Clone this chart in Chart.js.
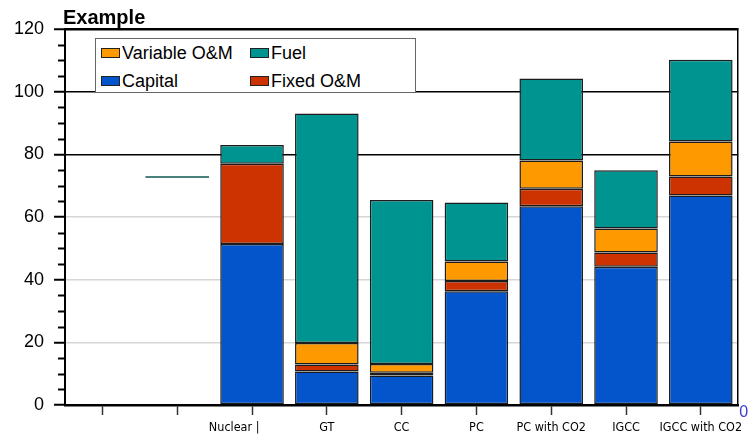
<!DOCTYPE html>
<html>
<head>
<meta charset="utf-8">
<script src="https://cdn.jsdelivr.net/npm/chart.js@4/dist/chart.umd.min.js"></script>
<style>
  html, body { margin: 0; padding: 0; background: #fff; }
  #wrap { position: relative; width: 748px; height: 439px; overflow: hidden; }
  #chart { position: absolute; left: 0; top: 0; }
  #title { position: absolute; left: 63px; top: 7px; font: bold 20px 'Liberation Sans', Arial, sans-serif; line-height: 20px; color: #000; }
  #legend { position: absolute; left: 95px; top: 38px; width: 319px; height: 53px; background: #fff; border: 1px solid #666; }
  .item { position: absolute; height: 20px; line-height: 20px; font: 18px 'Liberation Sans', Arial, sans-serif; color: #000; white-space: nowrap; }
  .sw { position: absolute; left: 0; top: 5px; width: 17px; height: 8px; border: 1.5px solid #222; }
  .item span.txt { position: absolute; left: 21px; top: 0; }
</style>
</head>
<body>
<div id="wrap">
  <canvas id="chart" width="748" height="445"></canvas>
  <div id="title">Example</div>
  <div id="legend"></div>
</div>
<script>
// Plant types along the x axis (the first two slots are left empty)
const categories = ['', '', 'Nuclear |          ', 'GT', 'CC', 'PC', 'PC with CO2', 'IGCC', 'IGCC with CO2'];

// Cost components, stacked bottom to top
const capital    = [null, null, 51.4, 10.7, 9.4, 36.3, 63.4, 44.1, 66.9];
const fixedOM    = [null, null, 25.6, 2.2, 0.9, 3.3, 5.6, 4.6, 6.0];
const variableOM = [null, null, 0.0, 6.9, 2.8, 6.2, 9.0, 7.6, 11.2];
const fuel       = [null, null, 6.0, 73.2, 52.3, 18.8, 26.2, 18.6, 26.1];

// Leftover marker level in the second slot
const strayLevel = [null, 72.8, null, null, null, null, null, null, null];

// Axis settings
const yMin = 0, yMax = 120, yMajorStep = 20, yMinorStep = 5;
const rightAxisLabel = '0';

const seriesNames  = ['Capital', 'Fixed O&M', 'Variable O&M', 'Fuel'];
const seriesColors = ['#0455CB', '#CC3300', '#FF9900', '#009490'];
const seriesData   = [capital, fixedOM, variableOM, fuel];

// Legend layout order: row 1 = Variable O&M, Fuel; row 2 = Capital, Fixed O&M
const legendOrder = [2, 3, 0, 1];
const legendCols  = [101, 250];
const legendRows  = [43, 71];

const legendBox = document.getElementById('legend');
legendOrder.forEach((si, k) => {
  const item = document.createElement('div');
  item.className = 'item';
  item.style.left = (legendCols[k % 2] - 96) + 'px';
  item.style.top = (legendRows[Math.floor(k / 2)] - 39) + 'px';
  const sw = document.createElement('span');
  sw.className = 'sw';
  sw.style.background = seriesColors[si];
  const t = document.createElement('span');
  t.className = 'txt';
  t.textContent = seriesNames[si];
  item.appendChild(sw);
  item.appendChild(t);
  legendBox.appendChild(item);
});

const narrowFont = "'Liberation Sans Narrow', 'DejaVu Sans Condensed', 'Liberation Sans', sans-serif";
const mainFont = "'Liberation Sans', Arial, sans-serif";

// Minor tick marks on the value axis, the stray marker line and the right-hand zero label
const extras = {
  id: 'extras',
  afterDatasetsDraw(chart) {
    const ctx = chart.ctx;
    const x = chart.scales.x, y = chart.scales.y;
    const bars = chart.getDatasetMeta(0).data;
    const w = bars.length > 2 ? bars[2].width : 60;
    ctx.save();
    ctx.strokeStyle = '#0b5752';
    ctx.lineWidth = 1.5;
    strayLevel.forEach((v, i) => {
      if (v === null) return;
      const cx = x.getPixelForValue(i);
      const py = y.getPixelForValue(v);
      ctx.beginPath();
      ctx.moveTo(cx - w / 2, py);
      ctx.lineTo(cx + w / 2, py);
      ctx.stroke();
    });
    ctx.restore();
  },
  afterDraw(chart) {
    const ctx = chart.ctx;
    const y = chart.scales.y;
    const area = chart.chartArea;
    ctx.save();
    ctx.strokeStyle = '#000';
    ctx.lineWidth = 2;
    for (let v = yMin + yMinorStep; v < yMax; v += yMinorStep) {
      if (v % yMajorStep === 0) continue;
      const py = Math.round(y.getPixelForValue(v)) + 0.5;
      ctx.beginPath();
      ctx.moveTo(area.left - 7, py);
      ctx.lineTo(area.left, py);
      ctx.stroke();
    }
    ctx.fillStyle = '#3b3bd1';
    ctx.font = '16px ' + mainFont;
    ctx.textAlign = 'left';
    ctx.textBaseline = 'middle';
    ctx.fillText(rightAxisLabel, area.right + 1, y.getPixelForValue(yMin) + 8);
    ctx.restore();
  }
};

new Chart(document.getElementById('chart'), {
  type: 'bar',
  data: {
    labels: categories,
    datasets: seriesData.map((d, i) => ({
      label: seriesNames[i],
      data: d,
      backgroundColor: seriesColors[i],
      borderColor: '#1c1c1c',
      borderWidth: 1.5,
      borderSkipped: false,
      categoryPercentage: 1.0,
      barPercentage: 0.85
    }))
  },
  options: {
    responsive: false,
    animation: false,
    devicePixelRatio: 1,
    layout: { padding: { left: 4, right: 7, top: 29, bottom: 4 } },
    plugins: {
      legend: { display: false },
      title: { display: false },
      tooltip: { enabled: false }
    },
    scales: {
      x: {
        stacked: true,
        grid: {
          display: true,
          drawOnChartArea: false,
          offset: false,
          tickLength: 10,
          tickColor: '#333',
          tickWidth: 1.5
        },
        border: { display: true, color: '#000', width: 2.5 },
        ticks: {
          autoSkip: false,
          maxRotation: 0,
          padding: 5.5,
          color: '#000',
          font: { family: narrowFont, size: 12.5 }
        }
      },
      y: {
        stacked: true,
        min: yMin,
        max: yMax,
        ticks: {
          stepSize: yMajorStep,
          padding: 10,
          color: '#000',
          font: { family: mainFont, size: 18 }
        },
        grid: {
          color: c => (c.tick && c.tick.value === 0) ? 'rgba(0,0,0,0)' :
                      (c.tick && c.tick.value < 80) ? '#d6d6d6' : '#000',
          lineWidth: c => (c.tick && c.tick.value === yMax) ? 2.5 : 1.5,
          tickLength: 11,
          tickColor: '#000',
          tickWidth: 2
        },
        border: { display: true, color: '#000', width: 2 }
      },
      y2: {
        position: 'right',
        min: yMin,
        max: yMax,
        grid: { display: true, drawOnChartArea: false, drawTicks: false },
        border: { display: true, color: '#000', width: 1.5 },
        ticks: { display: false }
      }
    }
  },
  plugins: [extras]
});
</script>
</body>
</html>
